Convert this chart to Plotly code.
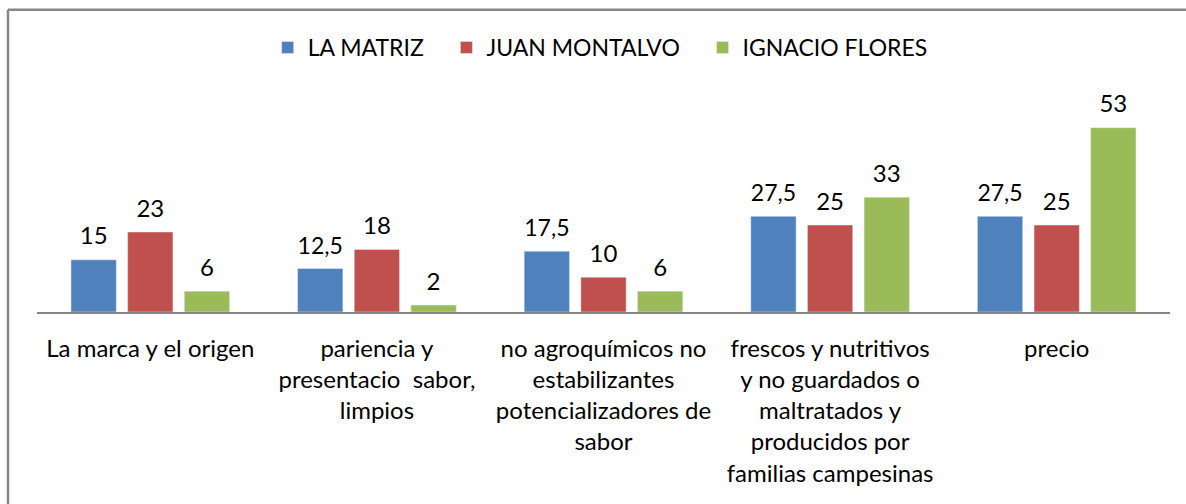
import plotly.graph_objects as go

categories = [
    "La marca y el origen",
    "pariencia y<br>presentacio  sabor,<br>limpios",
    "no agroquímicos no<br>estabilizantes<br>potencializadores de<br>sabor",
    "frescos y nutritivos<br>y no guardados o<br>maltratados y<br>producidos por<br>familias campesinas",
    "precio",
]
la_matriz = [15, 12.5, 17.5, 27.5, 27.5]
juan_montalvo = [23, 18, 10, 25, 25]
ignacio_flores = [6, 2, 6, 33, 53]

series = [
    ("LA MATRIZ", la_matriz, "#4F81BD"),
    ("JUAN MONTALVO", juan_montalvo, "#C0504D"),
    ("IGNACIO FLORES", ignacio_flores, "#9BBB59"),
]

FONT = "Lato"
PAD = "\u00a0\u00a0\u00a0"

def fmt(v):
    return ("%g" % v).replace(".", ",")

fig = go.Figure()
for name, vals, col in series:
    fig.add_trace(go.Bar(
        name=name + PAD, x=categories, y=vals,
        marker=dict(color=col),
        text=["<span style='font-size:24px'>" + fmt(v) + "</span><br>\u00a0" for v in vals],
        textposition="outside",
        textfont=dict(family=FONT, size=8, color="#000000"),
        cliponaxis=False,
    ))

fig.update_layout(
    width=1186, height=504,
    margin=dict(l=37, r=16, t=80, b=192),
    paper_bgcolor="white", plot_bgcolor="white",
    barmode="group", bargap=0.25, bargroupgap=0.2,
    font=dict(family=FONT, size=24, color="#000000"),
    showlegend=True,
    legend=dict(orientation="h", x=0.505, xanchor="center", y=1.14, yanchor="middle",
                font=dict(family=FONT, size=23, color="#000000"), traceorder="normal"),
    xaxis=dict(showline=True, linecolor="#868686", linewidth=2, ticks="",
               tickfont=dict(family=FONT, size=24, color="#000000"),
               ticklabelstandoff=14, showgrid=False),
    yaxis=dict(range=[0, 66.7], visible=False, showgrid=False),
    shapes=[
        dict(type="line", xref="paper", yref="paper", x0=-0.0256, x1=1.0141, y0=1.303, y1=1.303,
             line=dict(color="#868686", width=2.5), layer="below"),
        dict(type="line", xref="paper", yref="paper", x0=-0.0256, x1=-0.0256, y0=-0.84, y1=1.303,
             line=dict(color="#868686", width=2.5), layer="below"),
    ],
)

fig.write_html("out.html", config={"displayModeBar": False},
               post_script="document.body.style.margin='0';document.body.style.overflow='hidden';")
